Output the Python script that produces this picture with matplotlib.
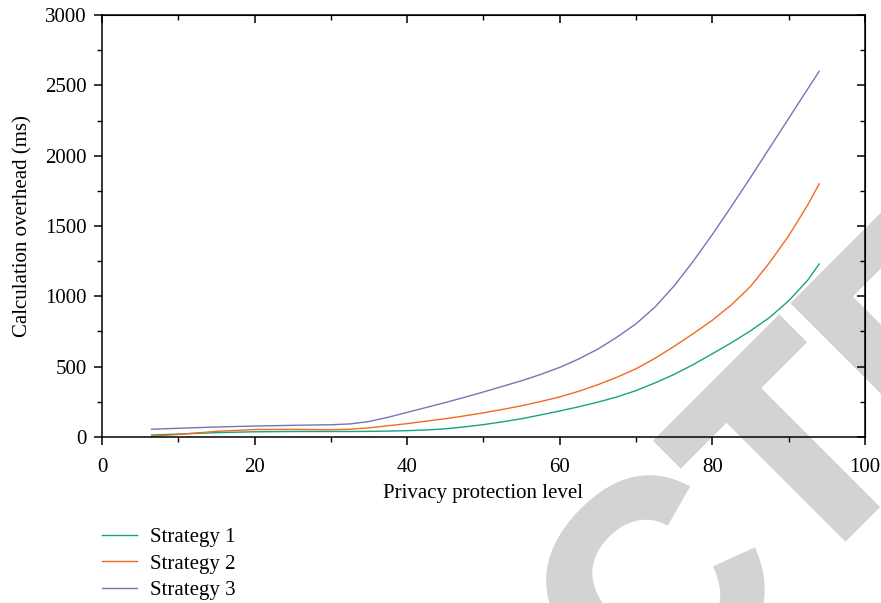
import matplotlib
matplotlib.use("Agg")
import matplotlib.pyplot as plt
import matplotlib.patheffects as pe
from matplotlib.ticker import MultipleLocator

# privacy protection level (x) and calculation overhead in ms for each strategy
level_low = [6.5, 10, 15, 20, 25, 30, 32.5, 35, 37.5]
level_high = [40, 42.5, 45, 47.5, 50, 52.5, 55, 57.5, 60, 62.5, 65, 67.5, 70,
              72.5, 75, 77.5, 80, 82.5, 85, 87.5, 90, 92.5, 94]
level = level_low + level_high

strategy_1 = [14, 21, 31, 37, 39, 39, 39, 40, 42,
              45, 50, 58, 72, 88, 108, 130, 157, 185, 215, 248, 285, 330,
              385, 445, 515, 592, 670, 755, 850, 968, 1115, 1230]
strategy_2 = [5, 18, 40, 53, 54, 51, 55, 65, 80,
              95, 113, 130, 150, 172, 196, 222, 252, 285, 325, 372, 425, 485,
              560, 645, 735, 830, 940, 1070, 1240, 1430, 1650, 1800]
strategy_3 = [55, 62, 71, 78, 83, 87, 93, 110, 140,
              175, 210, 245, 282, 320, 360, 400, 445, 495, 555, 625, 710, 805,
              925, 1075, 1250, 1440, 1640, 1845, 2055, 2265, 2475, 2600]

labels = ["Strategy 1", "Strategy 2", "Strategy 3"]
colors = ["#19a37f", "#f26a21", "#7873b6"]

plt.rcParams["font.family"] = ["Liberation Serif", "DejaVu Serif"]
plt.rcParams["font.size"] = 15

fig = plt.figure(figsize=(8.81, 6.03), dpi=100)
ax = fig.add_axes([0.1158, 0.2753, 0.866, 0.6998])
ax.patch.set_visible(False)

# retraction stamp behind the chart
fig.text(0.736, -0.217, "CTED", rotation=45, rotation_mode="anchor",
         ha="left", va="baseline", fontsize=210, fontweight="bold",
         family="Liberation Sans", color="#d3d3d3", zorder=-1,
         path_effects=[pe.withStroke(linewidth=5, foreground="#d3d3d3",
                                     joinstyle="miter")])

for ys, lab, c in zip([strategy_1, strategy_2, strategy_3], labels, colors):
    ax.plot(level, ys, color=c, lw=1.0, label=lab)

ax.set_xlim(0, 100)
ax.set_ylim(0, 3000)
ax.xaxis.set_major_locator(MultipleLocator(20))
ax.xaxis.set_minor_locator(MultipleLocator(10))
ax.yaxis.set_major_locator(MultipleLocator(500))
ax.yaxis.set_minor_locator(MultipleLocator(250))

for sp in ax.spines.values():
    sp.set_linewidth(1.1)

ax.tick_params(which="major", direction="out", length=6, width=1.1, labelsize=15)
ax.tick_params(which="minor", direction="out", length=3.5, width=1.0)
ax.tick_params(axis="x", which="major", pad=9)
ax.tick_params(axis="y", which="major", pad=5)

# mirrored ticks pointing inward on top and right
top = ax.secondary_xaxis("top")
top.xaxis.set_major_locator(MultipleLocator(20))
top.xaxis.set_minor_locator(MultipleLocator(10))
top.tick_params(which="major", direction="in", length=6, width=1.1, labeltop=False)
top.tick_params(which="minor", direction="in", length=3.5, width=1.0)
right = ax.secondary_yaxis("right")
right.yaxis.set_major_locator(MultipleLocator(500))
right.yaxis.set_minor_locator(MultipleLocator(250))
right.tick_params(which="major", direction="in", length=6, width=1.1, labelright=False)
right.tick_params(which="minor", direction="in", length=3.5, width=1.0)

ax.set_xlabel("Privacy protection level", fontsize=15, labelpad=5)
ax.set_ylabel("Calculation overhead (ms)", fontsize=15, labelpad=9)

fig.legend(loc="upper left", bbox_to_anchor=(0.1158, 0.125), frameon=False,
           fontsize=15, handlelength=1.7, handletextpad=0.6,
           labelspacing=0.33, borderpad=0, borderaxespad=0)

fig.savefig("out.png", dpi=100)
plt.close("all")
